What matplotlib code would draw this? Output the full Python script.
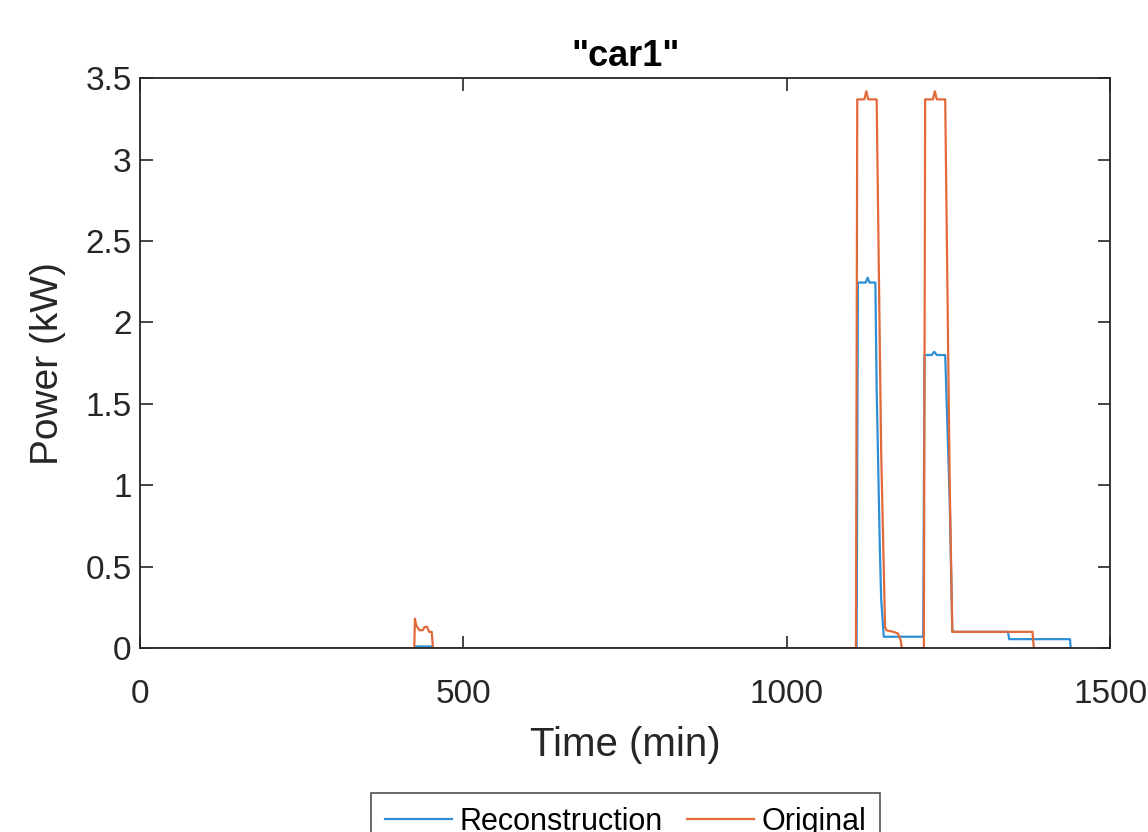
import matplotlib
matplotlib.use('Agg')
from matplotlib import pyplot as plt

plt.rcParams['font.family'] = ['Liberation Sans', 'DejaVu Sans']

# breakpoints (time in min, power in kW)
orig_t = [0, 424, 425, 427, 432, 437, 440, 444, 447, 451, 453,
          1107, 1109, 1120, 1123, 1126, 1139, 1146, 1152, 1154, 1165, 1172, 1176, 1178,
          1212, 1214, 1226, 1229, 1232, 1245, 1252, 1256, 1380, 1382, 1440]
orig_p = [0, 0, 0.18, 0.14, 0.11, 0.11, 0.13, 0.13, 0.10, 0.10, 0,
          0, 3.37, 3.37, 3.42, 3.37, 3.37, 1.2, 0.13, 0.11, 0.10, 0.09, 0.05, 0,
          0, 3.37, 3.37, 3.42, 3.37, 3.37, 1.0, 0.10, 0.10, 0, 0]

rec_t = [0, 425, 426, 451, 452,
         1108, 1110, 1122, 1125, 1128, 1137, 1139, 1144, 1146, 1150, 1211,
         1213, 1224, 1228, 1232, 1245, 1252, 1256, 1342, 1344, 1438, 1439]
rec_p = [0, 0, 0.01, 0.01, 0,
         0, 2.245, 2.245, 2.275, 2.245, 2.245, 1.6, 0.6, 0.3, 0.07, 0.07,
         1.80, 1.80, 1.82, 1.80, 1.80, 0.9, 0.10, 0.10, 0.055, 0.055, 0]

blue = '#2f8fd5'
orange = '#e2693a'
dark = '#262626'

fig = plt.figure(figsize=(11.48, 8.32), dpi=100)
ax = fig.add_axes([0.122, 0.221, 0.845, 0.685])

ax.plot(rec_t, rec_p, color=blue, lw=1.6, label='Reconstruction')
ax.plot(orig_t, orig_p, color=orange, lw=1.6, label='Original')

ax.set_xlim(0, 1500)
ax.set_ylim(0, 3.5)
ax.set_xticks([0, 500, 1000, 1500])
ax.set_yticks([0, 0.5, 1, 1.5, 2, 2.5, 3, 3.5])
ax.set_yticklabels(['0', '0.5', '1', '1.5', '2', '2.5', '3', '3.5'])

for s in ax.spines.values():
    s.set_color(dark)
    s.set_linewidth(1.3)
ax.tick_params(direction='in', length=9, width=1.2, top=True, right=True,
               colors=dark, labelsize=24)
ax.tick_params(axis='x', labelsize=24, pad=22)
ax.tick_params(axis='y', pad=6)

ax.set_xlabel('Time (min)', fontsize=29, color=dark, labelpad=12)
ax.set_ylabel('Power (kW)', fontsize=28, color=dark, labelpad=14)
ax.set_title('"car1"', fontsize=26, fontweight='bold', color='black', pad=9)

# legend sits below the figure edge, clipped like the source
leg = fig.legend(loc='upper center', bbox_to_anchor=(0.545, 0.047), ncol=2,
                 fontsize=22, frameon=True, fancybox=False, edgecolor=dark,
                 handlelength=2.2, handletextpad=0.25, columnspacing=0.8,
                 borderpad=0.45, borderaxespad=0)
leg.get_frame().set_linewidth(1.2)

fig.savefig('out.png', dpi=100)
plt.close(fig)
